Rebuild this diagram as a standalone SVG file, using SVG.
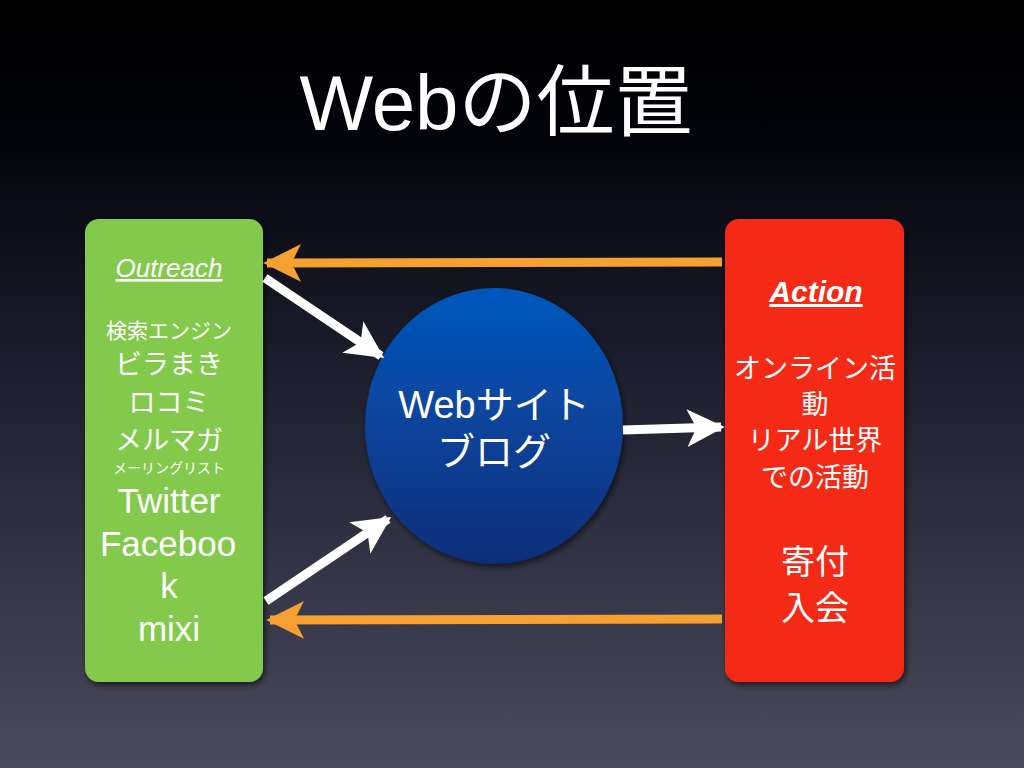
<svg xmlns="http://www.w3.org/2000/svg" width="1024" height="768" viewBox="0 0 1024 768">
<defs>
<linearGradient id="bg" x1="0" y1="0" x2="0" y2="1">
<stop offset="0" stop-color="#000000"/>
<stop offset="0.18" stop-color="#03040a"/>
<stop offset="0.5" stop-color="#1e2030"/>
<stop offset="1" stop-color="#4a4a5c"/>
</linearGradient>
<linearGradient id="ball" x1="0" y1="0" x2="0" y2="1">
<stop offset="0" stop-color="#0558bd"/>
<stop offset="1" stop-color="#0a2e78"/>
</linearGradient>
<filter id="sh" x="-10%" y="-10%" width="120%" height="120%">
<feDropShadow dx="2" dy="3" stdDeviation="3" flood-color="#000" flood-opacity="0.6"/>
</filter>
<marker id="ow" viewBox="0 0 10 10" refX="9" refY="5" markerWidth="4.2" markerHeight="4.2" orient="auto" markerUnits="strokeWidth">
<path d="M0,0 L10,5 L0,10 L2.5,5 Z" fill="#f7a032"/>
</marker>
<marker id="ww" viewBox="0 0 10 10" refX="9" refY="5" markerWidth="4.2" markerHeight="4.2" orient="auto" markerUnits="strokeWidth">
<path d="M0,0 L10,5 L0,10 L2.5,5 Z" fill="#ffffff"/>
</marker>
<style>
.t{fill:#ffffff;font-family:"Liberation Sans","Noto Sans CJK JP",sans-serif;text-anchor:middle}
.o{stroke:#f7a032;stroke-width:9;fill:none}
.w{stroke:#ffffff;stroke-width:9;fill:none}
</style>
</defs>
<rect width="1024" height="768" fill="url(#bg)"/>
<text class="t" x="496" y="130" font-size="78">Webの位置</text>
<g id="outreach">
<rect x="85" y="219" width="178" height="463" rx="14" fill="#83c94b" filter="url(#sh)"/>
<text class="t" x="169" y="277" font-size="26" font-style="italic" text-decoration="underline">Outreach</text>
<text class="t" x="169" y="338" font-size="21">検索エンジン</text>
<text class="t" x="169" y="374" font-size="27">ビラまき</text>
<text class="t" x="169" y="412" font-size="27">ロコミ</text>
<text class="t" x="169" y="450" font-size="27">メルマガ</text>
<text class="t" x="169" y="473" font-size="14">メーリングリスト</text>
<text class="t" x="169" y="513" font-size="35">Twitter</text>
<text class="t" x="168" y="556" font-size="35">Faceboo</text>
<text class="t" x="169" y="598" font-size="35">k</text>
<text class="t" x="169" y="641" font-size="35">mixi</text>
</g>
<g id="action">
<rect x="725" y="219" width="179" height="463" rx="14" fill="#f42b14" filter="url(#sh)"/>
<text class="t" x="816" y="302" font-size="30" font-weight="bold" font-style="italic" text-decoration="underline">Action</text>
<text class="t" x="815" y="378" font-size="27">オンライン活</text>
<text class="t" x="815" y="414" font-size="27">動</text>
<text class="t" x="815" y="450" font-size="27">リアル世界</text>
<text class="t" x="815" y="487" font-size="27">での活動</text>
<text class="t" x="815" y="574" font-size="34">寄付</text>
<text class="t" x="815" y="620" font-size="34">入会</text>
</g>
<g id="web">
<ellipse cx="494" cy="426" rx="129" ry="138" fill="url(#ball)" filter="url(#sh)"/>
<text class="t" x="494" y="418" font-size="38">Webサイト</text>
<text class="t" x="494" y="465" font-size="38">ブログ</text>
</g>
<g id="connectors">
<line class="o" x1="722" y1="262" x2="267" y2="263" marker-end="url(#ow)"/>
<line class="o" x1="722" y1="619" x2="270" y2="620" marker-end="url(#ow)"/>
<line class="w" x1="265" y1="278" x2="381" y2="356" marker-end="url(#ww)"/>
<line class="w" x1="266" y1="601" x2="388" y2="519" marker-end="url(#ww)"/>
<line class="w" x1="623" y1="430" x2="721" y2="427" marker-end="url(#ww)"/>
</g>
</svg>
